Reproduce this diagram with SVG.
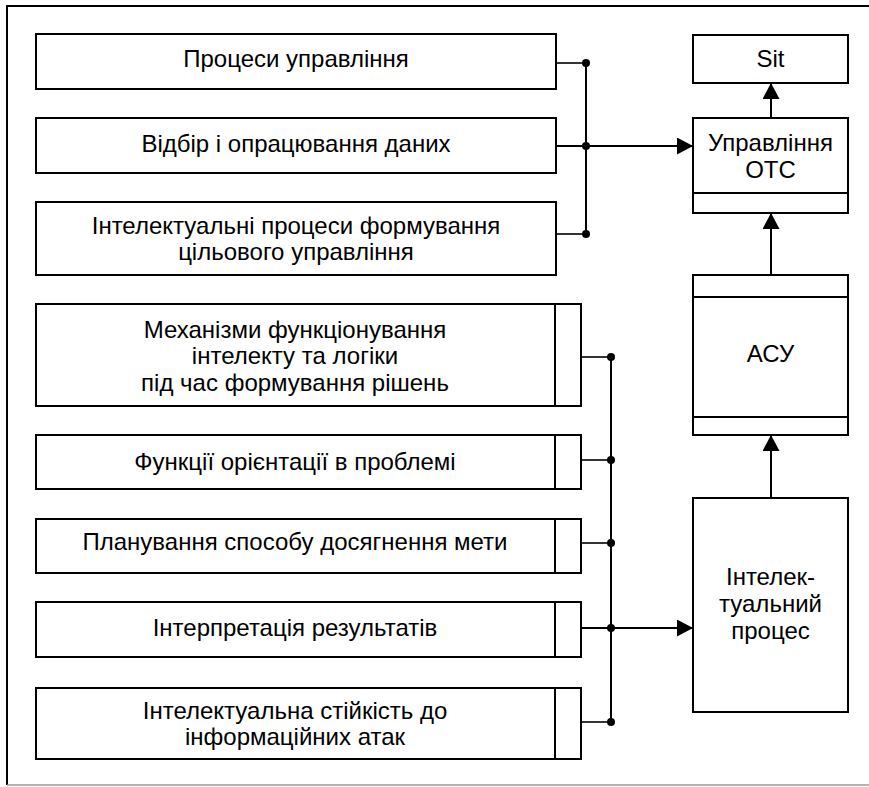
<svg xmlns="http://www.w3.org/2000/svg" width="869" height="787" viewBox="0 0 869 787">
  <style>
    .box { fill: #fff; stroke: #000; stroke-width: 2; }
    .div { stroke: #000; stroke-width: 2; fill: none; }
    .ln { stroke: #000; stroke-width: 2; fill: none; }
    .stub { stroke: #000; stroke-width: 1.6; fill: none; }
    .dot { fill: #000; }
    text { font-family: "Liberation Sans", Arial, sans-serif; font-size: 24px; fill: #000; text-anchor: middle; }
  </style>
  <defs>
    <marker id="arrow" viewBox="0 0 16 17" refX="16" refY="8.5" markerWidth="16" markerHeight="17" markerUnits="userSpaceOnUse" orient="auto">
      <path d="M0,0 L16,8.5 L0,17 Z" fill="#000"/>
    </marker>
  </defs>

  <!-- outer frame -->
  <g id="frame">
    <path d="M869,6 H7 V785" fill="none" stroke="#000" stroke-width="2"/>
    <path d="M7,785 H869" fill="none" stroke="#999" stroke-width="1.5"/>
  </g>

  <!-- upper input group -->
  <g id="n-processes">
    <rect class="box" x="36" y="34" width="520" height="55"/>
    <text x="296" y="67">Процеси управління</text>
  </g>
  <g id="n-selection">
    <rect class="box" x="36" y="118" width="520" height="55"/>
    <text x="296" y="152">Відбір і опрацювання даних</text>
  </g>
  <g id="n-intellectual-processes">
    <rect class="box" x="36" y="202" width="520" height="73"/>
    <text x="296" y="234">Інтелектуальні процеси формування</text>
    <text x="296" y="260">цільового управління</text>
  </g>

  <!-- lower input group -->
  <g id="n-mechanisms">
    <rect class="box" x="36" y="304" width="545" height="102"/>
    <line class="div" x1="555" y1="304" x2="555" y2="406"/>
    <text x="295" y="338">Механізми функціонування</text>
    <text x="295" y="364">інтелекту та логіки</text>
    <text x="295" y="391">під час формування рішень</text>
  </g>
  <g id="n-orientation">
    <rect class="box" x="36" y="435" width="545" height="54"/>
    <line class="div" x1="555" y1="435" x2="555" y2="489"/>
    <text x="295" y="470">Функції орієнтації в проблемі</text>
  </g>
  <g id="n-planning">
    <rect class="box" x="36" y="519" width="545" height="54"/>
    <line class="div" x1="555" y1="519" x2="555" y2="573"/>
    <text x="295" y="550">Планування способу досягнення мети</text>
  </g>
  <g id="n-interpretation">
    <rect class="box" x="36" y="602" width="545" height="55"/>
    <line class="div" x1="555" y1="602" x2="555" y2="657"/>
    <text x="295" y="636">Інтерпретація результатів</text>
  </g>
  <g id="n-resilience">
    <rect class="box" x="36" y="688" width="545" height="71"/>
    <line class="div" x1="555" y1="688" x2="555" y2="759"/>
    <text x="295" y="719">Інтелектуальна стійкість до</text>
    <text x="295" y="745">інформаційних атак</text>
  </g>

  <!-- right column -->
  <g id="n-sit">
    <rect class="box" x="693" y="35" width="155" height="48"/>
    <text x="770.5" y="67">Sit</text>
  </g>
  <g id="n-control-ots">
    <rect class="box" x="693" y="118" width="155" height="95"/>
    <line class="div" x1="693" y1="193" x2="848" y2="193"/>
    <text x="770.5" y="151">Управління</text>
    <text x="770.5" y="178">ОТС</text>
  </g>
  <g id="n-asu">
    <rect class="box" x="693" y="275" width="155" height="160"/>
    <line class="div" x1="693" y1="297" x2="848" y2="297"/>
    <line class="div" x1="693" y1="417" x2="848" y2="417"/>
    <text x="770.5" y="362">АСУ</text>
  </g>
  <g id="n-intellectual-process">
    <rect class="box" x="693" y="498" width="155" height="214"/>
    <text x="770.5" y="585">Інтелек-</text>
    <text x="770.5" y="612">туальний</text>
    <text x="770.5" y="639">процес</text>
  </g>

  <!-- connectors -->
  <g id="connectors">
    <!-- upper bus -->
    <line class="stub" x1="556" y1="63" x2="586" y2="63"/>
    <line class="stub" x1="556" y1="234" x2="586" y2="234"/>
    <line class="ln" x1="586" y1="63" x2="586" y2="234"/>
    <line class="ln" x1="556" y1="146" x2="693" y2="146" marker-end="url(#arrow)"/>
    <circle class="dot" cx="586" cy="63" r="4"/>
    <circle class="dot" cx="586" cy="146" r="4"/>
    <circle class="dot" cx="586" cy="234" r="4"/>

    <!-- lower bus -->
    <line class="ln" x1="611" y1="357" x2="611" y2="722"/>
    <line class="stub" x1="581" y1="357" x2="611" y2="357"/>
    <line class="stub" x1="581" y1="460" x2="611" y2="460"/>
    <line class="stub" x1="581" y1="543" x2="611" y2="543"/>
    <line class="stub" x1="581" y1="722" x2="611" y2="722"/>
    <line class="ln" x1="581" y1="628" x2="693" y2="628" marker-end="url(#arrow)"/>
    <circle class="dot" cx="611" cy="357" r="4"/>
    <circle class="dot" cx="611" cy="460" r="4"/>
    <circle class="dot" cx="611" cy="543" r="4"/>
    <circle class="dot" cx="611" cy="628" r="4"/>
    <circle class="dot" cx="611" cy="722" r="4"/>

    <!-- vertical chain -->
    <line class="ln" x1="771" y1="118" x2="771" y2="83" marker-end="url(#arrow)"/>
    <line class="ln" x1="771" y1="275" x2="771" y2="213" marker-end="url(#arrow)"/>
    <line class="ln" x1="771" y1="498" x2="771" y2="435" marker-end="url(#arrow)"/>
  </g>
</svg>
